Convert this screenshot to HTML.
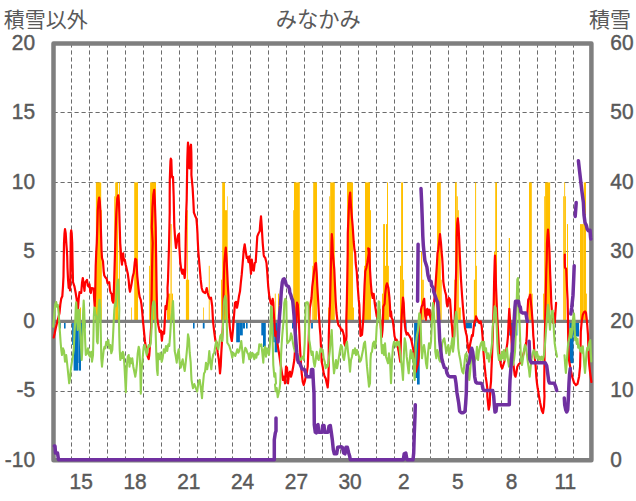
<!DOCTYPE html>
<html lang="ja"><head><meta charset="utf-8"><title>みなかみ</title>
<style>html,body{margin:0;padding:0;background:#fff;}svg{display:block;}text{font-family:"Liberation Sans","Noto Sans CJK JP",sans-serif;fill:#595959;}</style></head><body>
<svg width="636" height="501" viewBox="0 0 636 501">
<rect width="636" height="501" fill="#fff"/>
<g stroke="#6c6c6c" stroke-width="1" stroke-dasharray="4.2,2.8" fill="none">
<line x1="71.5" y1="43.4" x2="71.5" y2="460.3"/>
<line x1="89.5" y1="43.4" x2="89.5" y2="460.3"/>
<line x1="107.5" y1="43.4" x2="107.5" y2="460.3"/>
<line x1="125.5" y1="43.4" x2="125.5" y2="460.3"/>
<line x1="143.5" y1="43.4" x2="143.5" y2="460.3"/>
<line x1="161.5" y1="43.4" x2="161.5" y2="460.3"/>
<line x1="179.5" y1="43.4" x2="179.5" y2="460.3"/>
<line x1="197.5" y1="43.4" x2="197.5" y2="460.3"/>
<line x1="215.5" y1="43.4" x2="215.5" y2="460.3"/>
<line x1="232.5" y1="43.4" x2="232.5" y2="460.3"/>
<line x1="250.5" y1="43.4" x2="250.5" y2="460.3"/>
<line x1="268.5" y1="43.4" x2="268.5" y2="460.3"/>
<line x1="286.5" y1="43.4" x2="286.5" y2="460.3"/>
<line x1="304.5" y1="43.4" x2="304.5" y2="460.3"/>
<line x1="322.5" y1="43.4" x2="322.5" y2="460.3"/>
<line x1="340.5" y1="43.4" x2="340.5" y2="460.3"/>
<line x1="358.5" y1="43.4" x2="358.5" y2="460.3"/>
<line x1="376.5" y1="43.4" x2="376.5" y2="460.3"/>
<line x1="394.5" y1="43.4" x2="394.5" y2="460.3"/>
<line x1="412.5" y1="43.4" x2="412.5" y2="460.3"/>
<line x1="430.5" y1="43.4" x2="430.5" y2="460.3"/>
<line x1="448.5" y1="43.4" x2="448.5" y2="460.3"/>
<line x1="466.5" y1="43.4" x2="466.5" y2="460.3"/>
<line x1="483.5" y1="43.4" x2="483.5" y2="460.3"/>
<line x1="501.5" y1="43.4" x2="501.5" y2="460.3"/>
<line x1="519.5" y1="43.4" x2="519.5" y2="460.3"/>
<line x1="537.5" y1="43.4" x2="537.5" y2="460.3"/>
<line x1="555.5" y1="43.4" x2="555.5" y2="460.3"/>
<line x1="573.5" y1="43.4" x2="573.5" y2="460.3"/>
<line x1="53.5" y1="112.5" x2="591.4" y2="112.5"/>
<line x1="53.5" y1="182.5" x2="591.4" y2="182.5"/>
<line x1="53.5" y1="251.5" x2="591.4" y2="251.5"/>
<line x1="53.5" y1="391.5" x2="591.4" y2="391.5"/>
</g>
<g fill="#ffc000">
<rect x="95.00" y="265.8" width="0.90" height="55.5"/>
<rect x="95.90" y="182.4" width="5.30" height="138.9"/>
<rect x="101.20" y="210.2" width="0.80" height="111.1"/>
<rect x="114.20" y="196.3" width="1.00" height="125.0"/>
<rect x="115.20" y="182.4" width="2.80" height="138.9"/>
<rect x="118.90" y="182.4" width="1.00" height="138.9"/>
<rect x="80.00" y="307.5" width="1.00" height="13.8"/>
<rect x="131.20" y="307.5" width="0.80" height="13.8"/>
<rect x="134.20" y="182.4" width="3.80" height="138.9"/>
<rect x="149.10" y="265.8" width="1.00" height="55.5"/>
<rect x="150.10" y="182.4" width="5.90" height="138.9"/>
<rect x="167.00" y="293.6" width="3.50" height="27.7"/>
<rect x="170.50" y="224.1" width="1.20" height="97.2"/>
<rect x="171.70" y="293.6" width="1.30" height="27.7"/>
<rect x="185.90" y="279.7" width="3.20" height="41.6"/>
<rect x="186.90" y="210.2" width="0.90" height="111.1"/>
<rect x="203.00" y="307.5" width="0.80" height="13.8"/>
<rect x="208.80" y="265.8" width="0.90" height="55.5"/>
<rect x="221.00" y="279.7" width="1.00" height="41.6"/>
<rect x="222.20" y="182.4" width="2.80" height="138.9"/>
<rect x="225.00" y="210.2" width="2.20" height="111.1"/>
<rect x="227.20" y="196.3" width="0.60" height="125.0"/>
<rect x="274.80" y="293.6" width="0.90" height="27.7"/>
<rect x="278.00" y="293.6" width="1.00" height="27.7"/>
<rect x="293.20" y="210.2" width="0.80" height="111.1"/>
<rect x="294.00" y="182.4" width="5.80" height="138.9"/>
<rect x="312.30" y="265.8" width="0.90" height="55.5"/>
<rect x="313.20" y="182.4" width="3.80" height="138.9"/>
<rect x="328.20" y="307.5" width="1.10" height="13.8"/>
<rect x="329.30" y="196.3" width="0.90" height="125.0"/>
<rect x="330.20" y="182.4" width="4.60" height="138.9"/>
<rect x="347.00" y="182.4" width="6.00" height="138.9"/>
<rect x="353.00" y="307.5" width="1.00" height="13.8"/>
<rect x="364.00" y="265.8" width="1.00" height="55.5"/>
<rect x="365.00" y="182.4" width="5.00" height="138.9"/>
<rect x="370.00" y="210.2" width="1.00" height="111.1"/>
<rect x="382.00" y="293.6" width="1.30" height="27.7"/>
<rect x="383.10" y="224.1" width="1.90" height="97.2"/>
<rect x="385.00" y="265.8" width="1.00" height="55.5"/>
<rect x="386.00" y="224.1" width="1.00" height="97.2"/>
<rect x="387.00" y="182.4" width="1.00" height="138.9"/>
<rect x="388.00" y="265.8" width="0.90" height="55.5"/>
<rect x="400.00" y="265.8" width="1.10" height="55.5"/>
<rect x="401.10" y="182.4" width="1.90" height="138.9"/>
<rect x="403.00" y="279.7" width="1.10" height="41.6"/>
<rect x="421.00" y="251.9" width="1.20" height="69.4"/>
<rect x="422.20" y="279.7" width="1.60" height="41.6"/>
<rect x="436.30" y="279.7" width="0.70" height="41.6"/>
<rect x="437.00" y="182.4" width="3.80" height="138.9"/>
<rect x="440.80" y="279.7" width="0.90" height="41.6"/>
<rect x="454.30" y="279.7" width="0.70" height="41.6"/>
<rect x="455.00" y="182.4" width="1.70" height="138.9"/>
<rect x="456.70" y="196.3" width="1.10" height="125.0"/>
<rect x="457.80" y="210.2" width="1.00" height="111.1"/>
<rect x="458.80" y="307.5" width="2.00" height="13.8"/>
<rect x="473.90" y="279.7" width="1.20" height="41.6"/>
<rect x="475.10" y="182.4" width="1.00" height="138.9"/>
<rect x="476.10" y="265.8" width="0.90" height="55.5"/>
<rect x="494.00" y="251.9" width="1.20" height="69.4"/>
<rect x="495.20" y="182.4" width="1.80" height="138.9"/>
<rect x="508.80" y="238.0" width="1.20" height="83.3"/>
<rect x="528.70" y="293.6" width="0.30" height="27.7"/>
<rect x="529.00" y="182.4" width="2.80" height="138.9"/>
<rect x="531.80" y="293.6" width="0.90" height="27.7"/>
<rect x="543.10" y="293.6" width="1.10" height="27.7"/>
<rect x="544.20" y="196.3" width="1.00" height="125.0"/>
<rect x="545.10" y="182.4" width="5.00" height="138.9"/>
<rect x="563.20" y="196.3" width="1.00" height="125.0"/>
<rect x="564.20" y="182.4" width="0.90" height="138.9"/>
<rect x="565.10" y="196.3" width="0.90" height="125.0"/>
<rect x="567.00" y="224.1" width="1.00" height="97.2"/>
<rect x="580.00" y="224.1" width="3.80" height="97.2"/>
<rect x="583.80" y="182.4" width="2.20" height="138.9"/>
<rect x="586.00" y="293.6" width="0.90" height="27.7"/>
</g>
<g fill="#0070c0">
<rect x="59.80" y="321.3" width="1.00" height="7.2"/>
<rect x="64.00" y="321.3" width="1.60" height="7.2"/>
<rect x="72.10" y="321.3" width="1.50" height="23.7"/>
<rect x="73.60" y="321.3" width="4.80" height="49.3"/>
<rect x="78.40" y="321.3" width="0.60" height="41.7"/>
<rect x="79.00" y="321.3" width="2.00" height="49.3"/>
<rect x="81.00" y="321.3" width="1.00" height="20.7"/>
<rect x="85.00" y="321.3" width="0.70" height="7.2"/>
<rect x="193.00" y="321.3" width="1.60" height="7.2"/>
<rect x="202.80" y="321.3" width="1.80" height="7.2"/>
<rect x="236.20" y="321.3" width="3.70" height="21.0"/>
<rect x="239.90" y="321.3" width="2.90" height="14.1"/>
<rect x="242.80" y="321.3" width="2.20" height="7.2"/>
<rect x="246.00" y="321.3" width="1.60" height="7.2"/>
<rect x="261.30" y="321.3" width="1.70" height="14.1"/>
<rect x="263.00" y="321.3" width="2.80" height="25.7"/>
<rect x="273.10" y="321.3" width="1.60" height="21.0"/>
<rect x="274.70" y="321.3" width="2.90" height="31.0"/>
<rect x="283.20" y="321.3" width="0.70" height="7.2"/>
<rect x="292.00" y="321.3" width="1.10" height="7.2"/>
<rect x="311.10" y="321.3" width="1.80" height="7.2"/>
<rect x="405.00" y="321.3" width="1.60" height="9.7"/>
<rect x="414.10" y="321.3" width="2.90" height="56.7"/>
<rect x="417.00" y="321.3" width="2.70" height="63.2"/>
<rect x="465.20" y="321.3" width="6.70" height="7.0"/>
<rect x="474.70" y="321.3" width="1.30" height="5.2"/>
<rect x="509.20" y="321.3" width="8.20" height="14.2"/>
<rect x="569.30" y="321.3" width="4.20" height="41.9"/>
<rect x="573.50" y="321.3" width="5.60" height="15.2"/>
</g>
<rect x="53.5" y="43.4" width="537.9" height="416.9" fill="none" stroke="#7f7f7f" stroke-width="4.5" stroke-linejoin="round"/>
<line x1="53.5" y1="321.3" x2="591.4" y2="321.3" stroke="#7f7f7f" stroke-width="3.2"/>
<g fill="none" stroke="#ff0000" stroke-width="2.2" stroke-linejoin="round" stroke-linecap="round">
<polyline points="53.7,337.5 54.7,333.3 55.7,328.3 59.5,313.0 60.3,304.7 61.2,298.8 62.3,296.3 63.0,286.3 63.5,276.3 63.8,256.3 64.0,243.0 64.5,233.3 65.0,229.2 65.7,233.3 66.3,243.0 66.7,248.0 67.2,256.3 67.5,268.0 68.0,278.8 68.7,288.0 69.3,279.7 70.0,290.5 70.3,281.3 70.5,263.0 70.7,243.0 70.8,233.3 71.2,230.3 71.7,233.3 72.2,243.0 72.5,259.7 73.0,282.2 74.5,286.7 75.7,293.0 76.7,299.7 77.3,306.3 78.0,308.8 78.7,298.8 79.5,292.2 80.3,293.0 81.2,293.0 82.0,283.0 82.8,278.0 83.7,284.7 84.5,290.8 85.0,283.0 85.8,281.7 87.0,280.0 87.8,285.5 88.7,286.7 89.5,284.3 90.3,291.3 90.8,293.0 91.7,288.0 92.8,288.3 93.7,288.8 94.2,299.7 94.7,306.3 95.2,293.0 95.7,266.3 96.3,251.3 96.8,243.0 97.3,226.7 97.8,210.0 98.5,201.7 99.2,197.5 99.8,201.7 100.3,210.0 100.8,226.7 101.3,243.0 101.5,249.7 102.0,258.0 103.0,261.3 103.7,271.3 104.3,275.5 105.3,277.2 106.7,278.8 107.5,283.0 108.3,283.0 109.2,282.2 110.0,290.5 110.8,293.0 111.7,293.8 112.3,300.5 113.3,302.7 113.8,293.0 114.3,276.3 115.0,253.0 115.3,243.0 115.8,226.7 116.3,213.3 117.3,198.3 118.2,195.3 119.0,203.3 119.7,226.7 120.2,243.0 120.7,249.7 121.2,258.8 122.0,264.7 122.7,254.7 123.2,253.3 123.8,260.5 124.8,259.7 125.7,264.7 126.5,268.0 127.8,273.8 128.7,280.5 129.3,288.0 130.0,291.7 130.8,288.0 131.7,283.0 132.8,276.3 133.7,273.0 134.7,263.0 135.3,258.8 136.2,259.7 136.7,266.3 137.3,276.3 138.2,285.5 139.0,293.0 139.7,297.2 140.7,299.7 141.5,304.7 142.3,313.0 143.0,321.3 143.5,326.0 144.0,331.7 145.0,341.7 146.3,350.0 147.7,356.7 148.7,359.2 149.3,355.0 150.0,345.0 150.7,333.3 151.2,326.0 151.3,309.7 151.7,293.0 152.0,273.0 152.3,256.3 152.7,243.0 151.8,227.0 152.5,207.0 153.3,195.0 154.2,189.9 154.8,200.0 155.3,215.0 155.7,227.0 156.1,255.0 156.6,290.0 157.2,318.0 158.4,325.5 159.7,331.8 160.9,330.6 161.9,340.6 162.8,331.8 164.1,333.7 164.6,325.0 165.5,306.0 166.3,309.3 167.2,301.0 167.7,296.0 167.5,288.0 168.0,279.7 168.5,263.0 169.0,246.3 169.5,223.0 169.7,213.0 169.7,196.7 169.8,180.0 170.2,168.3 170.5,160.8 170.8,158.7 171.3,159.7 171.8,175.0 172.3,177.5 173.0,177.0 173.3,185.0 173.7,196.7 174.0,213.0 174.3,226.3 175.2,239.7 176.0,248.0 177.0,241.3 178.0,235.5 179.0,233.8 179.3,246.3 180.2,261.3 181.3,270.5 182.3,273.8 183.0,269.7 183.8,271.3 184.7,278.0 185.2,269.7 185.5,254.7 185.8,233.0 186.2,213.0 186.7,200.0 187.0,180.0 187.3,160.0 187.7,148.3 188.0,142.5 188.5,148.3 189.0,160.0 189.3,168.3 189.7,163.3 190.2,151.7 190.7,145.8 191.0,144.7 191.3,151.7 191.5,163.3 191.4,175.0 192.6,187.6 193.3,200.0 193.9,212.7 195.2,215.9 196.4,218.4 197.0,225.3 197.5,234.0 197.7,239.7 198.3,251.3 199.7,268.0 200.7,279.7 201.7,288.0 202.7,291.3 203.8,292.2 205.2,293.0 206.0,290.5 206.7,288.0 207.7,293.0 208.5,296.0 209.7,298.5 211.0,297.7 212.2,306.0 213.0,321.0 214.3,332.7 215.5,341.0 216.7,342.7 217.7,352.7 218.8,359.3 219.7,369.3 220.0,373.5 220.7,366.0 221.3,352.7 222.0,341.0 222.7,329.3 223.2,312.7 223.5,296.0 223.8,279.7 224.3,263.0 225.2,253.0 225.8,247.7 226.5,258.0 227.2,271.3 227.8,284.7 228.5,296.0 228.8,312.7 229.7,326.0 230.8,336.0 231.8,341.0 233.0,329.3 234.0,316.0 235.0,302.7 236.0,301.8 237.0,307.7 238.0,302.7 239.0,296.0 240.0,291.3 240.8,283.0 241.7,274.7 242.7,263.0 243.8,249.7 244.7,244.3 245.7,251.3 246.8,258.0 247.7,257.2 248.5,262.2 249.3,256.3 250.2,264.7 251.0,273.8 251.8,259.7 252.7,269.7 253.8,270.5 254.7,263.0 255.7,262.2 256.7,246.3 257.3,236.3 258.3,233.8 259.7,231.3 260.3,223.0 261.0,216.3 261.7,226.3 262.7,243.0 263.7,254.7 264.0,256.3 265.3,258.0 266.5,263.0 267.3,273.0 268.2,286.3 269.3,296.3 270.7,303.0 271.7,304.7 272.7,298.8 273.3,303.0 274.0,316.3 274.8,328.0 275.3,336.0 276.0,331.7 277.0,340.0 278.2,348.3 279.3,355.0 280.7,365.0 282.0,373.3 283.0,380.0 284.0,376.7 285.0,383.3 286.0,366.7 287.0,367.5 288.0,383.3 289.0,373.3 290.0,371.7 291.0,376.7 292.0,373.3 293.2,366.7 294.3,360.0 295.3,346.7 295.8,336.0 296.2,319.7 296.5,308.0 297.0,302.7 297.8,304.7 298.5,314.7 299.0,324.7 299.5,336.0 299.8,343.3 300.7,360.0 301.7,373.3 302.7,381.7 303.7,385.0 304.7,381.7 305.7,376.7 306.7,373.3 307.7,366.7 308.3,351.7 308.8,336.0 309.3,319.7 309.8,308.0 310.7,303.0 311.5,298.0 312.3,286.3 313.3,278.0 314.3,269.7 315.3,263.8 316.0,263.0 316.7,273.0 317.3,286.3 318.2,301.3 319.0,316.3 319.8,328.0 320.5,336.0 320.8,343.3 321.7,361.7 322.7,366.7 323.7,373.3 324.7,376.7 325.7,378.3 326.7,383.3 327.7,387.5 328.3,380.0 328.7,366.7 328.8,336.0 329.3,319.7 330.0,303.0 330.5,283.0 331.0,263.0 331.3,253.0 331.5,243.3 331.8,234.2 332.3,240.0 332.8,253.0 333.3,258.0 334.3,269.7 335.0,286.3 335.7,301.3 336.5,313.0 337.3,319.7 338.3,324.7 339.3,326.3 340.3,327.2 341.3,330.5 342.3,329.7 343.3,333.0 344.0,336.0 344.3,343.3 345.3,345.8 346.0,341.7 346.5,336.0 346.3,319.7 346.8,303.0 347.3,278.0 347.7,253.0 347.8,233.3 348.7,211.7 349.5,196.7 350.2,192.5 350.8,203.3 351.7,215.0 352.7,226.7 353.7,241.7 354.5,250.0 355.2,253.0 355.7,263.0 356.7,271.3 357.7,286.3 358.7,299.7 359.3,304.7 360.0,323.0 360.5,336.0 361.0,331.7 362.0,335.0 362.7,326.7 363.2,320.0 363.7,308.0 364.5,286.3 365.3,271.3 366.3,268.0 367.3,263.0 368.3,256.3 368.8,253.0 368.2,248.3 369.3,249.2 370.0,269.7 370.8,283.0 371.7,293.0 372.7,298.0 373.7,293.8 374.7,303.0 375.7,309.7 376.7,316.3 377.7,318.0 378.7,311.3 379.7,309.7 380.2,318.0 380.9,328.0 381.8,336.9 382.5,330.0 383.0,320.0 383.3,306.8 384.6,303.8 385.2,294.2 386.2,285.9 387.0,283.3 388.4,287.8 389.4,297.4 390.0,306.8 390.3,316.3 391.0,311.3 391.7,318.0 392.7,319.7 393.7,328.0 394.5,336.0 394.7,336.7 395.7,340.0 396.7,339.7 397.7,346.7 398.7,351.7 399.7,358.3 400.3,361.7 400.7,348.3 401.0,336.0 401.3,323.0 402.0,311.3 402.7,301.3 403.0,297.7 403.7,303.0 404.3,316.3 405.0,326.3 405.7,331.3 406.7,334.7 407.7,333.0 408.7,334.7 409.5,336.0 410.7,338.3 411.7,341.7 412.7,346.7 413.7,351.7 414.7,361.7 415.7,372.0 416.7,368.3 417.7,365.0 418.7,358.3 419.3,346.7 419.8,336.0 420.3,319.7 421.0,309.7 421.7,306.3 422.7,304.7 423.3,301.3 424.2,298.8 424.7,308.0 425.3,316.3 426.0,319.7 426.7,310.5 427.3,308.8 428.0,314.7 428.7,311.3 429.3,309.7 430.0,316.3 431.0,319.7 432.0,314.7 433.0,309.7 434.0,303.0 435.0,293.0 436.0,278.0 437.0,263.0 437.5,253.0 438.2,250.0 439.0,243.3 440.0,234.2 441.0,243.3 441.7,253.0 442.2,258.0 442.7,266.3 443.3,281.3 444.0,286.3 445.0,291.3 446.0,294.7 446.7,303.0 447.3,306.3 448.0,301.3 449.0,298.0 450.0,299.7 450.7,309.7 451.3,319.7 452.0,326.3 452.7,336.0 453.0,339.7 453.5,339.7 454.2,336.0 454.7,319.7 455.2,303.0 455.7,286.3 456.2,269.7 456.5,253.0 456.7,236.7 457.2,223.3 457.8,218.3 458.5,225.0 459.2,240.0 459.7,253.0 460.2,263.0 461.0,279.7 462.0,294.7 463.0,308.0 464.0,319.7 465.0,328.0 466.0,333.0 466.8,336.0 467.3,341.7 468.0,346.7 468.7,351.7 469.3,352.5 470.0,345.0 471.0,340.0 472.0,335.0 472.8,336.0 473.3,331.3 474.0,324.7 474.7,321.3 475.7,319.7 476.0,316.3 477.3,319.7 478.3,321.3 479.3,323.0 480.7,321.3 481.7,326.3 482.5,336.0 483.0,343.3 483.7,355.0 484.7,366.7 485.7,376.7 486.7,383.3 487.3,388.3 487.3,396.3 488.7,409.7 489.7,404.7 490.3,388.3 491.0,381.7 491.5,368.3 492.0,356.7 492.5,343.3 492.8,336.0 493.2,319.7 493.7,303.0 494.2,278.0 494.7,261.3 495.0,255.5 495.5,266.3 496.0,286.3 496.7,303.0 497.2,316.3 497.8,326.3 498.3,336.0 498.7,343.3 499.3,353.3 500.3,361.7 501.3,366.7 502.3,368.3 503.3,365.0 504.3,361.7 505.3,356.7 506.3,350.0 507.3,343.3 508.0,336.0 508.7,319.7 509.3,308.8 510.0,319.7 510.7,329.7 511.3,336.0 512.0,351.7 512.7,360.0 513.7,366.7 514.7,375.0 515.5,376.7 516.3,373.3 517.3,366.7 518.7,364.2 520.0,363.3 521.3,362.5 522.7,356.7 524.0,351.7 525.3,346.7 526.3,341.7 526.8,336.0 527.2,323.0 527.5,311.3 528.2,299.7 529.3,297.7 530.3,294.7 531.0,303.0 531.8,311.3 532.7,323.0 533.3,336.0 533.7,340.0 534.3,351.7 535.0,360.0 535.7,366.7 536.3,376.7 537.0,383.3 537.7,388.3 538.0,389.7 539.0,396.3 540.2,403.0 541.8,410.5 543.0,413.0 544.0,406.3 544.5,396.3 544.2,388.3 544.5,360.0 544.8,336.0 545.2,319.7 545.7,294.7 546.3,269.7 546.7,259.7 547.0,243.3 547.5,235.0 548.0,229.7 548.5,235.0 549.0,243.3 549.5,253.0 549.8,263.0 550.2,274.7 550.7,286.3 551.3,303.0 552.3,316.3 553.3,323.0 554.3,319.7 555.0,313.0 554.8,322.6 555.4,312.8 556.1,302.8"/>
<polyline points="564.8,254.5 564.8,261.7 565.0,267.5 566.2,269.0 566.5,276.0 567.1,290.0 567.6,300.0 567.9,316.0 568.1,332.0 568.4,346.4 569.0,360.0 570.3,367.5 572.1,376.4 574.0,382.6 575.9,385.2 577.5,383.9 579.1,376.4 580.1,366.3 580.5,350.0 580.8,332.0 581.6,322.4 582.8,314.7 584.1,312.1 585.1,311.5 586.0,312.8 586.7,319.2 587.3,325.6 588.0,335.0 588.6,356.5 589.3,365.3 590.0,371.6 590.8,377.6 591.4,382.0"/>
</g>
<g fill="none" stroke="#92d050" stroke-width="2.1" stroke-linejoin="round" stroke-linecap="round">
<polyline points="53.3,326.7 54.0,318.3 54.7,310.0 55.3,304.2 56.2,302.0 57.0,306.7 57.8,305.0 58.7,313.3 59.3,323.3 60.0,333.3 60.7,343.3 61.3,350.0 62.0,355.0 63.0,348.3 64.0,350.8 65.0,361.7 66.2,355.0 67.3,365.0 68.3,375.0 69.2,383.3 70.0,378.3 70.7,370.0 71.7,363.3 72.8,356.7 73.7,350.0 74.5,333.3 75.3,320.0 75.8,306.7 76.2,302.2 76.7,310.0 77.2,320.0 77.7,330.0 78.2,321.7 78.7,311.7 79.0,309.7 79.5,313.3 80.0,326.7 80.5,338.3 81.2,350.0 81.7,360.0 82.3,350.0 82.8,325.0 83.2,310.0 83.7,300.5 84.2,310.0 84.7,326.7 85.2,341.7 85.8,355.0 87.0,353.3 88.0,348.3 89.0,355.0 90.0,356.7 91.2,351.7 92.0,361.7 93.0,355.0 93.5,333.3 93.8,316.7 94.3,307.5 95.3,313.3 96.3,316.7 97.0,341.7 97.7,343.3 98.2,325.0 98.5,310.0 99.5,299.7 100.3,310.0 100.8,333.3 101.3,358.3 102.0,366.7 102.8,358.3 103.7,350.0 104.5,346.7 105.3,348.3 106.3,341.7 107.3,345.0 108.3,340.0 109.3,348.3 110.3,345.0 111.3,353.3 112.3,350.0 113.0,336.7 113.7,321.7 114.3,310.0 115.0,303.0 115.7,306.3 116.2,298.0 117.0,286.3 117.8,280.5 118.3,279.7 118.8,293.0 119.3,309.7 119.0,321.7 119.3,336.7 119.7,350.0 120.3,360.0 121.2,353.3 122.0,358.3 122.8,351.7 123.7,355.0 124.5,366.7 125.2,380.0 125.8,392.2 126.5,373.3 127.0,363.3 127.8,356.7 128.7,355.0 129.5,366.7 130.3,358.3 131.3,363.3 132.3,358.3 133.3,366.7 134.3,371.7 135.3,376.7 136.3,370.0 137.0,363.3 137.7,353.3 138.7,346.7 139.5,350.0 140.2,366.7 140.8,393.8 141.5,370.0 142.0,366.7 142.8,356.7 143.7,346.7 144.7,345.0 145.7,350.0 146.7,355.0 147.7,348.3 148.7,345.0 149.7,346.7 150.7,343.3 151.3,333.3 152.0,316.7 152.5,306.7 153.2,302.2 154.0,301.3 155.0,306.3 155.3,316.7 155.7,333.3 156.3,355.0 157.0,370.0 157.7,375.0 158.0,353.5 159.3,359.3 160.5,352.7 161.7,361.8 162.7,357.7 163.8,349.3 165.0,352.7 166.0,346.0 167.2,351.0 168.3,344.3 169.3,346.0 170.2,334.3 171.0,321.0 172.0,312.7 173.0,301.0 173.5,312.7 174.0,329.3 174.7,351.0 175.7,356.0 176.7,362.7 177.7,354.3 178.7,349.3 179.7,362.7 180.7,367.7 181.7,362.7 182.7,359.3 183.7,366.0 184.7,371.0 185.7,362.7 186.7,352.7 187.3,346.0 188.0,334.3 189.0,339.3 189.7,352.7 190.7,362.7 191.2,374.3 191.5,379.8 192.2,384.0 193.0,388.2 194.3,384.0 195.5,387.3 197.2,391.5 198.2,384.0 199.0,380.7 199.7,379.8 200.3,384.0 201.0,389.0 202.0,398.2 202.7,387.3 203.3,380.7 204.0,373.5 205.0,371.8 206.0,362.7 207.2,369.3 208.3,362.7 209.3,351.0 210.3,362.7 211.3,369.3 212.3,359.3 213.3,354.3 214.3,352.7 215.3,346.0 216.3,341.0 217.3,346.0 218.3,349.3 219.3,342.7 220.3,336.0 221.3,334.3 222.3,341.0 223.0,326.0 223.7,306.0 224.3,299.3 225.2,296.0 226.0,301.0 226.7,321.0 227.3,342.7 228.3,344.3 229.3,346.0 230.3,349.3 231.3,352.7 232.3,357.7 233.3,352.7 234.3,354.3 235.3,356.0 236.3,352.7 237.3,349.3 238.3,352.7 239.3,351.0 240.3,346.0 241.3,341.0 242.3,351.0 243.3,362.7 244.3,352.7 245.3,347.7 246.3,349.3 247.3,352.7 248.3,354.3 249.3,359.3 250.3,352.7 251.3,357.7 252.3,352.7 253.3,354.3 254.3,359.3 255.3,354.3 256.3,357.7 257.3,352.7 258.3,354.3 259.3,344.3 260.3,346.0 261.3,344.3 262.3,352.7 263.3,362.7 264.0,350.0 265.0,346.7 266.0,356.7 267.0,348.3 268.0,351.7 269.0,355.0 270.0,343.3 270.7,320.0 271.0,306.3 271.7,308.0 272.0,320.0 272.7,343.3 273.3,365.0 274.3,376.7 275.3,373.3 276.0,383.3 275.0,384.7 275.7,391.3 276.7,388.0 277.7,397.2 278.7,393.0 279.7,388.0 280.2,383.0 280.5,376.7 281.0,356.7 281.7,343.3 282.3,335.0 283.0,326.7 283.7,320.0 284.3,303.0 285.3,298.8 286.3,301.3 286.7,326.7 287.3,343.3 288.7,341.7 290.0,340.0 291.0,333.3 292.0,336.7 293.0,343.3 294.0,348.3 295.0,351.7 296.0,350.0 297.0,351.7 298.0,360.0 299.0,356.7 300.3,360.0 301.7,358.3 302.7,356.7 303.7,360.0 304.7,343.3 305.3,320.0 305.7,303.0 306.7,302.2 307.7,302.2 308.5,306.3 308.7,320.0 309.2,340.0 309.8,343.3 310.7,350.0 311.7,355.0 312.7,351.7 313.7,361.7 314.7,366.7 315.7,360.0 316.7,351.7 317.7,358.3 318.7,360.0 319.7,353.3 320.7,348.3 321.7,351.7 322.7,350.0 323.7,358.3 324.7,361.7 325.7,368.3 326.7,365.0 327.7,366.7 328.7,360.0 329.7,351.7 330.7,340.0 331.7,330.0 332.3,343.3 333.0,360.0 334.0,373.3 335.0,366.7 336.0,360.0 337.0,368.3 338.0,363.3 339.0,356.7 340.0,350.0 341.0,345.0 342.0,346.7 343.0,356.7 344.0,360.0 345.0,353.3 346.0,345.0 347.0,341.7 348.0,351.7 349.0,360.0 350.0,371.7 351.0,360.0 352.0,356.7 353.0,350.0 354.0,353.3 355.0,348.3 356.0,355.0 357.0,350.0 358.0,353.3 359.0,356.7 360.0,361.7 361.0,360.0 362.0,355.0 363.0,350.0 364.0,343.3 365.0,341.7 366.0,353.3 367.0,366.7 368.0,376.7 369.0,386.7 370.0,383.3 370.5,360.0 371.0,353.3 372.0,351.7 373.0,343.3 374.0,341.7 375.0,348.3 376.0,340.0 376.7,326.7 377.7,319.7 378.7,301.3 379.3,302.2 380.0,319.7 380.7,326.7 381.3,343.3 382.0,353.3 383.0,345.0 384.0,355.0 385.0,343.3 386.0,356.7 387.0,360.0 388.0,363.3 389.0,353.3 390.0,360.0 391.0,383.3 392.0,360.0 393.0,346.7 394.0,341.7 395.0,343.3 396.0,346.7 397.0,341.7 398.0,345.0 399.0,341.7 400.0,351.7 401.0,360.0 402.0,368.3 403.0,380.0 404.0,351.7 404.7,338.3 405.7,343.3 406.7,356.7 407.7,365.0 408.7,373.3 409.7,360.0 410.7,350.0 411.7,358.3 412.7,353.3 413.7,365.0 414.7,380.0 415.3,360.0 416.0,343.3 417.0,335.0 418.0,330.0 418.7,320.0 419.3,313.3 420.0,315.0 420.7,326.7 421.3,343.3 422.0,358.3 423.0,350.0 424.0,345.0 425.0,351.7 426.0,363.3 427.0,368.3 428.0,353.3 429.0,343.3 430.0,348.3 431.0,341.7 431.7,326.7 432.0,319.7 433.0,303.0 433.7,309.7 434.3,320.0 434.7,330.0 435.3,351.7 436.3,358.3 437.3,350.0 438.3,353.3 439.3,360.0 440.3,361.7 441.3,351.7 442.3,343.3 443.3,340.0 444.3,338.3 445.3,345.0 446.3,353.3 447.3,348.3 448.3,345.0 449.3,355.0 450.3,350.0 451.3,345.0 452.3,338.3 453.0,351.7 454.0,343.3 454.7,326.7 455.3,318.3 456.2,311.7 457.0,320.0 457.7,335.0 458.3,348.3 459.3,355.0 460.3,360.0 461.3,366.7 462.3,371.7 463.3,373.3 464.3,365.0 465.3,355.0 466.3,353.3 467.3,356.7 468.3,368.3 469.3,380.0 470.0,373.3 471.0,360.0 472.0,353.3 473.0,360.0 474.0,363.3 475.0,360.0 476.0,358.3 477.0,346.7 478.0,360.0 479.0,351.7 480.0,346.7 481.0,343.3 482.0,341.7 483.0,350.0 484.0,341.7 485.0,351.7 486.0,348.3 487.0,358.3 488.0,353.3 489.0,361.7 490.0,356.7 491.0,351.7 492.0,343.3 492.7,326.7 493.7,319.7 494.7,306.3 495.7,308.0 496.3,319.7 496.7,326.7 497.3,343.3 498.0,353.3 499.0,360.0 500.0,355.0 501.0,360.0 502.0,351.7 503.0,358.3 504.0,350.0 505.0,360.0 506.0,355.0 507.0,348.3 508.0,360.0 509.0,366.7 510.0,360.0 511.0,353.3 512.0,360.0 513.0,365.0 514.0,360.0 515.0,351.7 515.7,335.0 516.3,319.7 516.7,303.0 517.3,279.7 518.0,278.0 518.7,299.7 519.3,319.7 519.7,326.7 520.3,343.3 521.0,360.0 522.0,365.0 523.0,358.3 524.0,350.0 525.0,345.0 526.0,348.3 527.0,355.0 528.0,363.3 529.0,370.0 529.7,376.7 530.7,366.7 531.7,358.3 532.7,353.3 533.7,350.0 534.7,353.3 535.7,358.3 536.7,351.7 537.7,355.0 538.7,360.0 539.7,356.7 540.7,360.0 541.7,356.7 542.7,360.0 543.7,356.7 544.7,348.3 545.7,335.0 546.3,326.3 547.0,316.3 548.0,304.7 548.7,309.7 549.3,319.7 550.0,329.7 550.7,319.7 551.7,311.3 552.7,310.5 553.3,319.7 553.7,326.7 554.0,333.3 554.7,343.3 555.7,350.0 556.7,355.0 557.0,356.7"/>
<polyline points="564.5,355.2 565.2,365.3 565.9,372.9 566.7,362.8 567.4,352.7 568.2,342.7 568.9,340.2 569.7,335.1 570.4,328.8 571.2,337.6 572.0,332.6 572.7,322.6 573.5,315.0 574.0,313.5 574.5,320.0 574.7,330.1 575.2,340.2 576.0,337.6 576.7,343.9 577.5,338.9 578.2,347.7 579.0,345.2 579.8,349.0 580.5,351.5 581.3,347.7 582.0,352.7 582.8,346.4 583.5,354.0 584.3,365.3 585.0,372.9 585.8,362.8 586.5,352.7 587.3,347.7 588.0,350.2 588.8,345.2 589.6,341.4 590.3,340.2 590.8,352.7 591.3,361.5"/>
</g>
<g fill="none" stroke="#7030a0" stroke-width="3.5" stroke-linejoin="round" stroke-linecap="round">
<polyline points="54.3,446.1 55.0,446.1 55.5,453.0 57.5,453.0 58.5,459.8 274.3,459.8 274.3,439.7 275.3,433.0 276.0,431.0 276.0,418.0"/>
<polyline points="278.0,342.0 278.7,330.0 279.5,316.0 280.4,305.7 281.3,291.6 282.3,282.2 283.2,279.3 284.2,278.8 285.1,280.3 286.1,284.5 287.0,285.9 288.4,286.4 289.4,288.8 289.8,292.5 290.8,294.9 291.7,298.2 292.7,300.5 293.3,307.0 294.0,315.0 294.6,324.4 295.3,334.0 296.0,343.0 296.8,353.0 297.6,359.5 298.5,362.5 299.8,363.3 300.8,365.8 302.0,368.8 304.6,369.6 305.8,373.3 307.1,376.8 310.9,376.8 311.5,369.6 312.8,369.6 313.1,377.0 313.5,385.0 314.0,393.0 314.3,424.7 315.3,432.2 316.3,433.0 317.0,425.5 318.0,424.7 318.7,432.2 322.0,432.2 322.7,425.5 324.0,425.5 324.7,432.2 328.0,432.2 329.0,426.3 330.3,425.5 331.3,432.2 332.3,439.7 333.3,449.7 334.3,453.8 336.7,453.8 337.7,447.2 341.3,446.7 342.3,447.2 343.7,453.0 345.0,453.8 346.0,447.2 347.3,447.2 348.7,453.0 349.7,456.3 350.3,459.8 403.3,459.8 404.2,453.8 405.8,453.0 407.0,459.8 413.0,459.8 413.7,453.0 414.3,433.0 415.0,416.0 415.3,404.7"/>
<polyline points="417.6,301.3 418.1,244.2"/>
<polyline points="421.0,188.5 421.7,203.3 422.3,220.0 422.8,236.0 423.3,245.0 423.8,250.4 424.9,260.7 426.9,267.0 428.0,275.3 429.5,280.5 431.1,281.5 431.6,285.6 433.2,287.7 433.7,291.7 434.7,294.5 435.7,297.5 436.7,300.5 437.7,302.2 438.3,310.0 439.0,325.0 439.7,340.0 440.7,350.0 441.7,358.3 443.0,363.3 444.3,367.5 446.0,368.3 447.0,373.3 448.3,375.8 450.0,376.7 455.0,376.7 456.0,383.3 457.0,393.0 457.7,397.0 458.7,403.0 459.7,411.3 461.3,412.7 463.3,412.7 465.0,411.3 465.7,403.0 466.3,393.0 466.7,373.3 467.5,365.0 468.7,363.3 469.7,360.0 470.7,351.7 471.7,348.3 472.7,351.7 473.7,360.0 474.7,376.7 475.7,382.0 477.0,383.0 481.0,383.3 482.0,384.0 483.0,389.0 484.3,390.6 492.7,390.6 493.7,396.3 494.3,404.7 495.0,412.0 496.0,411.3 496.7,404.7 509.3,404.7 509.5,393.0 510.0,380.0 511.1,365.8 512.4,349.4 513.6,330.6 514.3,318.0 514.9,308.0 515.5,301.3 518.5,301.3 519.3,306.0 520.3,307.0 521.0,312.0 522.7,313.0 525.7,313.0 526.3,316.0 527.3,321.5"/>
<polyline points="529.1,341.3 529.4,349.4 529.8,359.5 531.3,362.7 545.2,362.7 546.7,365.8 547.7,373.3 548.7,381.0 549.5,383.0 554.3,383.3 555.7,386.7 556.7,390.5"/>
<polyline points="564.3,398.0 564.7,404.7 565.7,409.7 566.7,412.0 567.7,409.7 568.3,399.7 569.0,383.0 569.5,375.0 570.3,368.5"/>
<polyline points="570.8,314.0 571.7,307.8 573.0,295.2 573.7,278.9 574.2,265.7"/>
<polyline points="575.2,216.4 576.2,202.5"/>
<polyline points="578.4,160.8 579.6,171.4 580.9,182.8 582.1,192.8 583.4,202.6 584.0,215.0 585.0,222.6 586.3,225.2 587.2,229.0 588.4,230.8 590.0,230.2 590.6,237.7 590.8,239.0"/>
</g>
<text x="3.8" y="27.2" font-size="21px">積雪以外</text>
<text x="318.3" y="26.5" text-anchor="middle" font-size="21.3px">みなかみ</text>
<text x="631" y="27.2" text-anchor="end" font-size="21px">積雪</text>
<g font-size="22.1px" stroke="#595959" stroke-width="0.45">
<text transform="translate(35.0,49.9) scale(0.945,1)" text-anchor="end">20</text>
<text transform="translate(35.0,119.4) scale(0.945,1)" text-anchor="end">15</text>
<text transform="translate(35.0,188.9) scale(0.945,1)" text-anchor="end">10</text>
<text transform="translate(35.0,258.4) scale(0.945,1)" text-anchor="end">5</text>
<text transform="translate(35.0,327.8) scale(0.945,1)" text-anchor="end">0</text>
<text transform="translate(35.0,397.3) scale(0.945,1)" text-anchor="end">-5</text>
<text transform="translate(35.0,466.8) scale(0.945,1)" text-anchor="end">-10</text>
<text transform="translate(610.3,49.9) scale(0.945,1)" text-anchor="start">60</text>
<text transform="translate(610.3,119.4) scale(0.945,1)" text-anchor="start">50</text>
<text transform="translate(610.3,188.9) scale(0.945,1)" text-anchor="start">40</text>
<text transform="translate(610.3,258.4) scale(0.945,1)" text-anchor="start">30</text>
<text transform="translate(610.3,327.8) scale(0.945,1)" text-anchor="start">20</text>
<text transform="translate(610.3,397.3) scale(0.945,1)" text-anchor="start">10</text>
<text transform="translate(610.3,466.8) scale(0.945,1)" text-anchor="start">0</text>
<text transform="translate(81.2,489.0) scale(0.945,1)" text-anchor="middle">15</text>
<text transform="translate(135.0,489.0) scale(0.945,1)" text-anchor="middle">18</text>
<text transform="translate(188.8,489.0) scale(0.945,1)" text-anchor="middle">21</text>
<text transform="translate(242.6,489.0) scale(0.945,1)" text-anchor="middle">24</text>
<text transform="translate(296.4,489.0) scale(0.945,1)" text-anchor="middle">27</text>
<text transform="translate(350.1,489.0) scale(0.945,1)" text-anchor="middle">30</text>
<text transform="translate(403.9,489.0) scale(0.945,1)" text-anchor="middle">2</text>
<text transform="translate(457.7,489.0) scale(0.945,1)" text-anchor="middle">5</text>
<text transform="translate(511.5,489.0) scale(0.945,1)" text-anchor="middle">8</text>
<text transform="translate(565.3,489.0) scale(0.945,1)" text-anchor="middle">11</text>
</g>
</svg></body></html>
